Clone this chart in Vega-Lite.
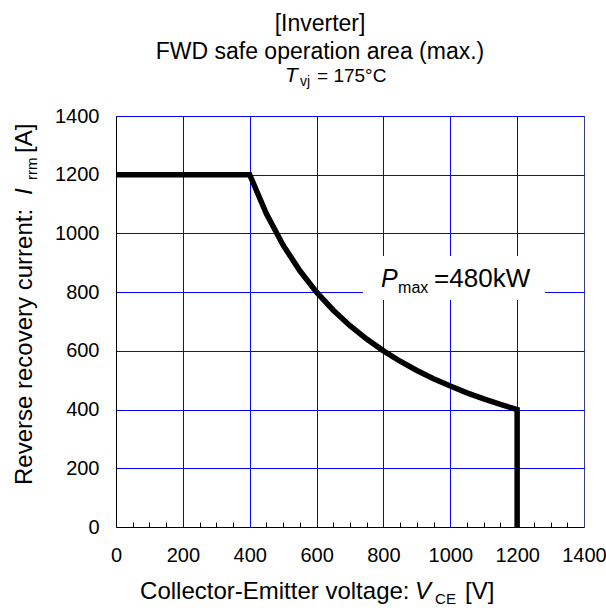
{
  "$schema": "https://vega.github.io/schema/vega-lite/v6.json",
  "width": 468,
  "height": 411,
  "autosize": {"type": "none"},
  "padding": {"left": 116, "top": 116, "right": 22, "bottom": 85},
  "background": "white",
  "title": {
    "text": ["[Inverter]", "FWD safe operation area (max.)"],
    "font": "Liberation Sans",
    "fontSize": 23,
    "fontWeight": "normal",
    "color": "black",
    "lineHeight": 28,
    "anchor": "middle",
    "frame": "group",
    "offset": 1,
    "dx": -30
  },
  "config": {
    "font": "Liberation Sans",
    "view": {"stroke": "#3b3b7d", "strokeWidth": 1}
  },
  "resolve": {"axis": {"x": "independent"}},
  "layer": [
    {
      "data": {"values": [{"item": "label background"}]},
      "mark": {"type": "rect", "fill": "white"},
      "encoding": {
        "x": {
          "datum": 739,
          "type": "quantitative",
          "scale": {"domain": [0, 1400], "nice": false},
          "axis": {
            "orient": "bottom",
            "offset": -5,
            "title": null,
            "values": [50, 100, 150, 250, 300, 350, 450, 500, 550, 650, 700, 750, 850, 900, 950, 1050, 1100, 1150, 1250, 1300, 1350],
            "labels": false,
            "domain": false,
            "grid": false,
            "ticks": true,
            "tickSize": 5,
            "tickColor": "black",
            "tickWidth": 1
          }
        },
        "x2": {"datum": 1283},
        "y": {"datum": 773, "type": "quantitative", "scale": {"domain": [0, 1400], "nice": false}},
        "y2": {"datum": 923}
      }
    },
    {
      "data": {
        "values": [
          {"V": 0, "I": 1200},
          {"V": 400, "I": 1200},
          {"V": 450, "I": 1066.7},
          {"V": 500, "I": 960},
          {"V": 550, "I": 872.7},
          {"V": 600, "I": 800},
          {"V": 650, "I": 738.5},
          {"V": 700, "I": 685.7},
          {"V": 750, "I": 640},
          {"V": 800, "I": 600},
          {"V": 850, "I": 564.7},
          {"V": 900, "I": 533.3},
          {"V": 950, "I": 505.3},
          {"V": 1000, "I": 480},
          {"V": 1050, "I": 457.1},
          {"V": 1100, "I": 436.4},
          {"V": 1150, "I": 417.4},
          {"V": 1200, "I": 400},
          {"V": 1200, "I": 0}
        ]
      },
      "mark": {"type": "line", "color": "black", "strokeWidth": 5.5, "strokeJoin": "miter", "strokeCap": "butt"},
      "encoding": {
        "x": {
          "field": "V",
          "type": "quantitative",
          "scale": {"domain": [0, 1400], "nice": false},
          "axis": {
            "orient": "bottom",
            "title": null,
            "values": [0, 200, 400, 600, 800, 1000, 1200, 1400],
            "format": "d",
            "labelFont": "Liberation Sans",
            "labelFontSize": 20,
            "labelColor": "black",
            "labelPadding": 18,
            "labelFlush": false,
            "labelOverlap": false,
            "grid": true,
            "gridColor": "#0000ff",
            "gridWidth": 1,
            "gridOpacity": {"condition": {"test": "datum.value > 0 && datum.value < 1400", "value": 1}, "value": 0},
            "ticks": false,
            "domainColor": "black",
            "domainWidth": 1
          }
        },
        "y": {
          "field": "I",
          "type": "quantitative",
          "scale": {"domain": [0, 1400], "nice": false},
          "axis": {
            "title": null,
            "values": [0, 200, 400, 600, 800, 1000, 1200, 1400],
            "format": "d",
            "labelFont": "Liberation Sans",
            "labelFontSize": 20,
            "labelColor": "black",
            "labelPadding": 17,
            "ticks": false,
            "grid": true,
            "gridColor": "#0000ff",
            "gridWidth": 1,
            "gridOpacity": {"condition": {"test": "datum.value === 0", "value": 0}, "value": 1},
            "domainColor": "black",
            "domainWidth": 1
          }
        },
        "order": {"value": null}
      }
    },
    {
      "data": {"values": [{"t": "T"}]},
      "mark": {"type": "text", "align": "left", "baseline": "alphabetic", "fontSize": 21, "fontStyle": "italic", "color": "black", "dx": 0},
      "encoding": {
        "text": {"field": "t"},
        "x": {"datum": 505.6, "type": "quantitative", "scale": {"domain": [0, 1400], "nice": false}, "axis": null},
        "y": {"datum": 1515.8, "type": "quantitative", "scale": {"domain": [0, 1400], "nice": false}}
      }
    },
    {
      "data": {"values": [{"t": "vj"}]},
      "mark": {"type": "text", "align": "left", "baseline": "alphabetic", "fontSize": 14, "color": "black", "dx": 15, "dy": 4},
      "encoding": {
        "text": {"field": "t"},
        "x": {"datum": 505.6, "type": "quantitative", "scale": {"domain": [0, 1400], "nice": false}, "axis": null},
        "y": {"datum": 1515.8, "type": "quantitative", "scale": {"domain": [0, 1400], "nice": false}}
      }
    },
    {
      "data": {"values": [{"t": "= 175°C"}]},
      "mark": {"type": "text", "align": "left", "baseline": "alphabetic", "fontSize": 19, "color": "black", "dx": 32},
      "encoding": {
        "text": {"field": "t"},
        "x": {"datum": 505.6, "type": "quantitative", "scale": {"domain": [0, 1400], "nice": false}, "axis": null},
        "y": {"datum": 1515.8, "type": "quantitative", "scale": {"domain": [0, 1400], "nice": false}}
      }
    },
    {
      "data": {"values": [{"t": "Reverse recovery current:"}]},
      "mark": {"type": "text", "align": "left", "baseline": "alphabetic", "angle": 270, "fontSize": 24, "color": "black", "dx": 0},
      "encoding": {
        "text": {"field": "t"},
        "x": {"datum": -251, "type": "quantitative", "scale": {"domain": [0, 1400], "nice": false}, "axis": null},
        "y": {"datum": 143, "type": "quantitative", "scale": {"domain": [0, 1400], "nice": false}}
      }
    },
    {
      "data": {"values": [{"t": "I"}]},
      "mark": {"type": "text", "align": "left", "baseline": "alphabetic", "angle": 270, "fontSize": 24, "fontStyle": "italic", "color": "black", "dx": 290},
      "encoding": {
        "text": {"field": "t"},
        "x": {"datum": -251, "type": "quantitative", "scale": {"domain": [0, 1400], "nice": false}, "axis": null},
        "y": {"datum": 143, "type": "quantitative", "scale": {"domain": [0, 1400], "nice": false}}
      }
    },
    {
      "data": {"values": [{"t": "rrm"}]},
      "mark": {"type": "text", "align": "left", "baseline": "alphabetic", "angle": 270, "fontSize": 15, "color": "black", "dx": 305, "dy": 5},
      "encoding": {
        "text": {"field": "t"},
        "x": {"datum": -251, "type": "quantitative", "scale": {"domain": [0, 1400], "nice": false}, "axis": null},
        "y": {"datum": 143, "type": "quantitative", "scale": {"domain": [0, 1400], "nice": false}}
      }
    },
    {
      "data": {"values": [{"t": "[A]"}]},
      "mark": {"type": "text", "align": "left", "baseline": "alphabetic", "angle": 270, "fontSize": 24, "color": "black", "dx": 332},
      "encoding": {
        "text": {"field": "t"},
        "x": {"datum": -251, "type": "quantitative", "scale": {"domain": [0, 1400], "nice": false}, "axis": null},
        "y": {"datum": 143, "type": "quantitative", "scale": {"domain": [0, 1400], "nice": false}}
      }
    },
    {
      "data": {"values": [{"t": "Collector-Emitter voltage:"}]},
      "mark": {"type": "text", "align": "left", "baseline": "alphabetic", "fontSize": 24, "color": "black", "dx": 0},
      "encoding": {
        "text": {"field": "t"},
        "x": {"datum": 72, "type": "quantitative", "scale": {"domain": [0, 1400], "nice": false}, "axis": null},
        "y": {"datum": -245, "type": "quantitative", "scale": {"domain": [0, 1400], "nice": false}}
      }
    },
    {
      "data": {"values": [{"t": "V"}]},
      "mark": {"type": "text", "align": "left", "baseline": "alphabetic", "fontSize": 24, "fontStyle": "italic", "color": "black", "dx": 275},
      "encoding": {
        "text": {"field": "t"},
        "x": {"datum": 72, "type": "quantitative", "scale": {"domain": [0, 1400], "nice": false}, "axis": null},
        "y": {"datum": -245, "type": "quantitative", "scale": {"domain": [0, 1400], "nice": false}}
      }
    },
    {
      "data": {"values": [{"t": "CE"}]},
      "mark": {"type": "text", "align": "left", "baseline": "alphabetic", "fontSize": 15, "color": "black", "dx": 295, "dy": 5},
      "encoding": {
        "text": {"field": "t"},
        "x": {"datum": 72, "type": "quantitative", "scale": {"domain": [0, 1400], "nice": false}, "axis": null},
        "y": {"datum": -245, "type": "quantitative", "scale": {"domain": [0, 1400], "nice": false}}
      }
    },
    {
      "data": {"values": [{"t": "[V]"}]},
      "mark": {"type": "text", "align": "left", "baseline": "alphabetic", "fontSize": 24, "color": "black", "dx": 325},
      "encoding": {
        "text": {"field": "t"},
        "x": {"datum": 72, "type": "quantitative", "scale": {"domain": [0, 1400], "nice": false}, "axis": null},
        "y": {"datum": -245, "type": "quantitative", "scale": {"domain": [0, 1400], "nice": false}}
      }
    },
    {
      "data": {"values": [{"t": "P"}]},
      "mark": {"type": "text", "align": "left", "baseline": "alphabetic", "fontSize": 25, "fontStyle": "italic", "color": "black", "dx": 0},
      "encoding": {
        "text": {"field": "t"},
        "x": {"datum": 793, "type": "quantitative", "scale": {"domain": [0, 1400], "nice": false}, "axis": null},
        "y": {"datum": 817.5, "type": "quantitative", "scale": {"domain": [0, 1400], "nice": false}}
      }
    },
    {
      "data": {"values": [{"t": "max"}]},
      "mark": {"type": "text", "align": "left", "baseline": "alphabetic", "fontSize": 16, "color": "black", "dx": 17, "dy": 6},
      "encoding": {
        "text": {"field": "t"},
        "x": {"datum": 793, "type": "quantitative", "scale": {"domain": [0, 1400], "nice": false}, "axis": null},
        "y": {"datum": 817.5, "type": "quantitative", "scale": {"domain": [0, 1400], "nice": false}}
      }
    },
    {
      "data": {"values": [{"t": "=480kW"}]},
      "mark": {"type": "text", "align": "left", "baseline": "alphabetic", "fontSize": 26, "color": "black", "dx": 53},
      "encoding": {
        "text": {"field": "t"},
        "x": {"datum": 793, "type": "quantitative", "scale": {"domain": [0, 1400], "nice": false}, "axis": null},
        "y": {"datum": 817.5, "type": "quantitative", "scale": {"domain": [0, 1400], "nice": false}}
      }
    }
  ]
}
